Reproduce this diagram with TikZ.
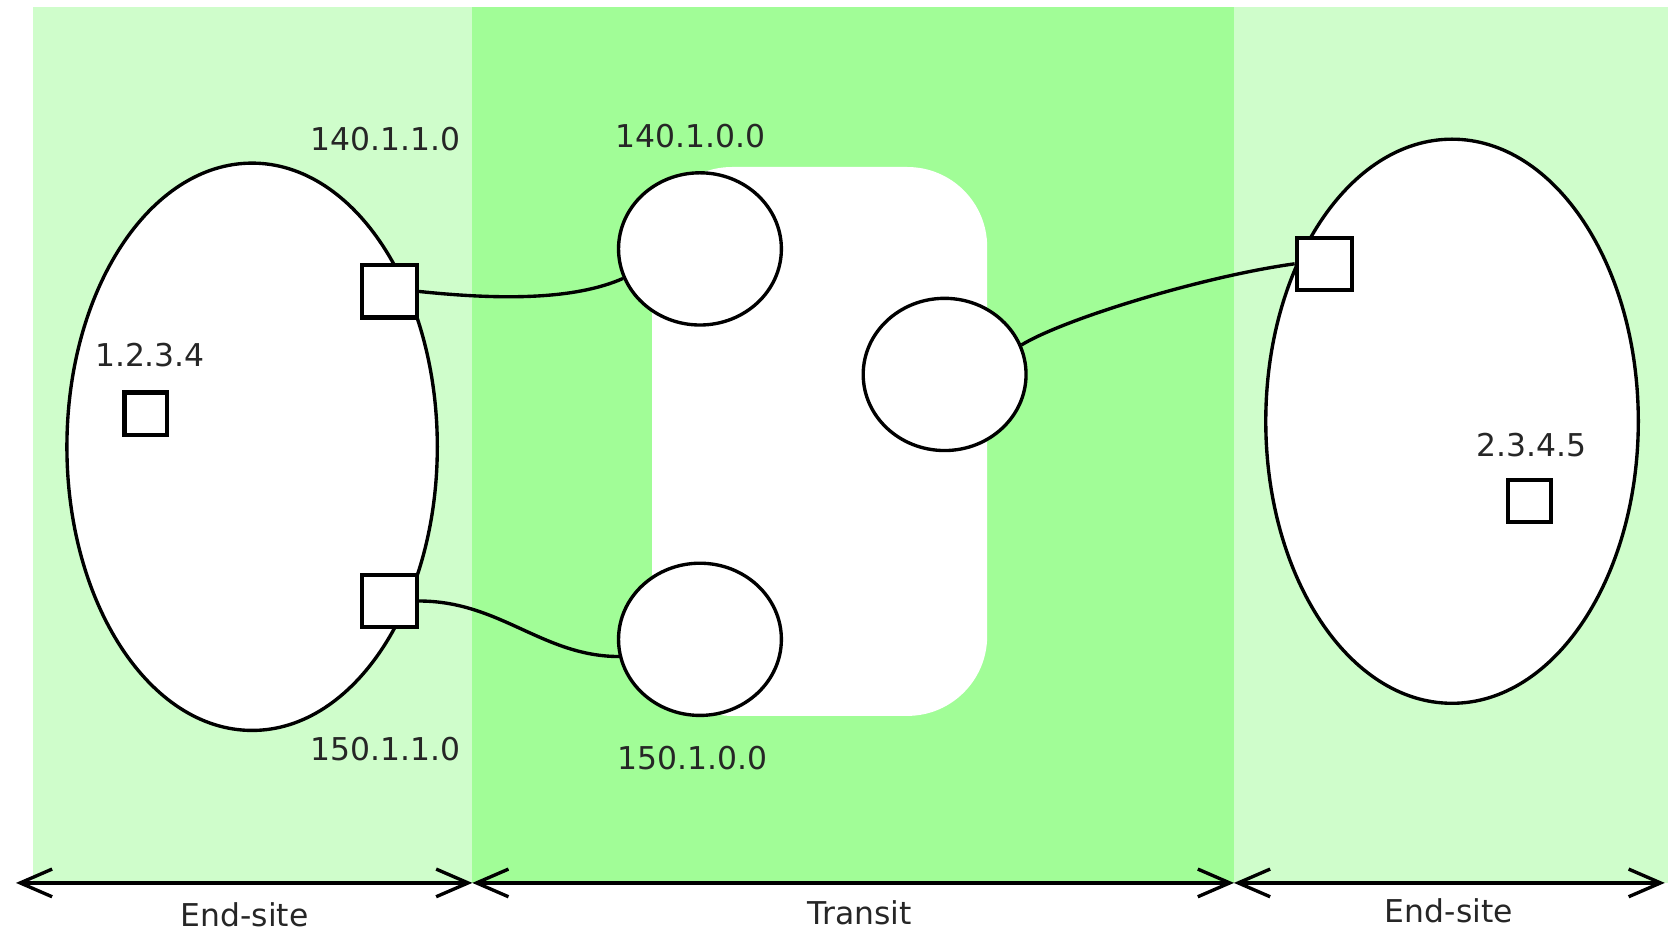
\documentclass[tikz,border=0pt]{standalone}
\usepackage{fontspec}
\setmainfont{DejaVu Sans}
\usetikzlibrary{shapes.geometric,arrows.meta}
\definecolor{sitegreen}{RGB}{207,253,203}
\definecolor{transitgreen}{RGB}{161,253,151}

\begin{document}
\begin{tikzpicture}[x=0.01cm, y=-0.01cm,
  site/.style={draw, ellipse, line width=0.9pt, fill=white, inner sep=0pt, minimum width=3.48cm, minimum height=5.33cm},
  router/.style={draw, ellipse, line width=0.9pt, fill=white, inner sep=0pt, minimum width=1.53cm, minimum height=1.43cm},
  gateway/.style={draw, rectangle, line width=1.1pt, fill=white, inner sep=0pt, minimum width=0.52cm, minimum height=0.49cm},
  host/.style={draw, rectangle, line width=1.1pt, fill=white, inner sep=0pt, minimum size=0.4cm},
  addr/.style={font=\fontsize{8.4}{10}\selectfont, text=black!85},
  wire/.style={line width=0.9pt},
  extent/.style={line width=0.9pt, {Straight Barb[length=3mm,width=2.6mm]}-{Straight Barb[length=3mm,width=2.6mm]}}]
  \useasboundingbox (0,0) rectangle (1568,877);

  % Background bands
  \fill[sitegreen] (31,7) rectangle (444,830);
  \fill[transitgreen] (444,7) rectangle (1160,830);
  \fill[sitegreen] (1160,7) rectangle (1568,830);
  \fill[white, rounded corners=0.75cm] (613,157) rectangle (928,673);

  % Left end-site
  \node[site] (siteL) at (237,420) {};
  \node[gateway] (gwA) at (366,274) {};
  \node[gateway] (gwB) at (366,565) {};
  \node[host] (hostL) at (137,389) {};
  \node[addr] (lblA) at (362,131) {140.1.1.0};
  \node[addr] (lblB) at (362,704) {150.1.1.0};
  \node[addr] (lblHL) at (141,334) {1.2.3.4};

  % Transit routers
  \node[router] (rtA) at (658,234) {};
  \node[router] (rtB) at (888,352) {};
  \node[router] (rtC) at (658,601) {};
  \node[addr] (lblRA) at (649,128) {140.1.0.0};
  \node[addr] (lblRC) at (651,713) {150.1.0.0};

  % Right end-site
  \node[site, minimum width=3.50cm, minimum height=5.30cm] (siteR) at (1365,396) {};
  \node[gateway] (gwC) at (1245,248) {};
  \node[host] (hostR) at (1438,471) {};
  \node[addr] (lblHR) at (1440,418) {2.3.4.5};

  % Links
  \draw[wire] (gwA.east) .. controls (470,282) and (540,282) .. (rtA.201);
  \draw[wire] (gwB.east) .. controls (470,565) and (510,617) .. (rtC.192);
  \draw[wire] (rtB.21) .. controls (1000,300) and (1130,260) .. (gwC.west);

  % Extent arrows
  \coordinate (e0) at (15,830);
  \coordinate (e1) at (444,830);
  \coordinate (e2) at (1160,830);
  \coordinate (e3) at (1565,830);
  \draw[extent] (e0) -- (e1);
  \draw[extent] (e1) -- (e2);
  \draw[extent] (e2) -- (e3);
  \node[addr] (lblSL) at (230,860) {End-site};
  \node[addr] (lblT) at (808,858) {Transit};
  \node[addr] (lblSR) at (1362,856) {End-site};
\end{tikzpicture}
\end{document}
